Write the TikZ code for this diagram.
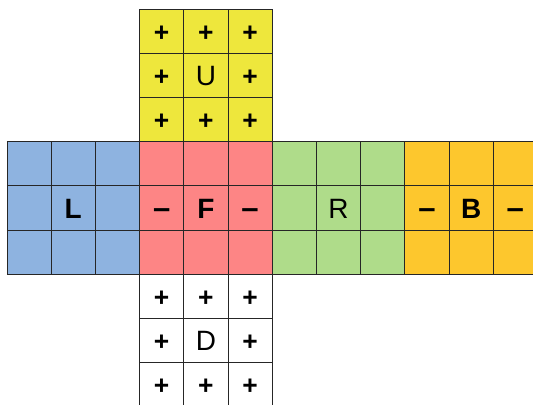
\documentclass[tikz,border=0pt]{standalone}
\usepackage{fontspec}
\setmainfont{Liberation Sans}
\definecolor{faceU}{HTML}{EEE73C}
\definecolor{faceL}{HTML}{8EB3E0}
\definecolor{faceF}{HTML}{FD8585}
\definecolor{faceR}{HTML}{AFDC8A}
\definecolor{faceB}{HTML}{FDC72D}

\begin{document}
\begin{tikzpicture}[x=1cm,y=1cm,
  cubeline/.style={line width=0.6pt,black!85},
  label/.style={inner sep=0pt,text height=13pt,text depth=0pt},
  facename/.style={label,font=\fontsize{18}{18}\selectfont},
  facebold/.style={label,font=\bfseries\fontsize{18}{18}\selectfont},
  sign/.style={label,font=\bfseries\fontsize{17}{17}\selectfont},
  dashsign/.style={label,font=\bfseries\fontsize{20}{20}\selectfont}]
  \useasboundingbox (-0.158,0.204) rectangle (11.90,-8.936);

  % faces
  \fill[faceU] (3,0) rectangle (6,-3);
  \fill[faceL] (0,-3) rectangle (3,-6);
  \fill[faceF] (3,-3) rectangle (6,-6);
  \fill[faceR] (6,-3) rectangle (9,-6);
  \fill[faceB] (9,-3) rectangle (12,-6);
  \fill[white] (3,-6) rectangle (6,-9);

  \draw[cubeline] (3,-3) grid (6,0);
  \draw[cubeline] (0,-6) grid (12,-3);
  \draw[cubeline] (3,-9) grid (6,-6);

  % face letters
  \node[facename] (U) at (4.5,-1.5) {U};
  \node[facebold] (L) at (1.5,-4.5) {L};
  \node[facebold] (F) at (4.5,-4.5) {F};
  \node[facename] (R) at (7.5,-4.5) {R};
  \node[facebold] (B) at (10.5,-4.5) {B};
  \node[facename] (D) at (4.5,-7.5) {D};

  % signs on U and D
  \foreach \i in {0,1,2}
    \foreach \j in {0,1,2} {
      \ifnum\i=1 \ifnum\j=1 \else
        \node[sign] (u\i\j) at (3.5+\i,-0.5-\j) {+};
        \node[sign] (d\i\j) at (3.5+\i,-6.5-\j) {+};
      \fi \else
        \node[sign] (u\i\j) at (3.5+\i,-0.5-\j) {+};
        \node[sign] (d\i\j) at (3.5+\i,-6.5-\j) {+};
      \fi
    }

  % signs on F and B
  \node[dashsign] (fl) at (3.5,-4.5) {\textendash};
  \node[dashsign] (fr) at (5.5,-4.5) {\textendash};
  \node[dashsign] (bl) at (9.5,-4.5) {\textendash};
  \node[dashsign] (br) at (11.5,-4.5) {\textendash};
\end{tikzpicture}
\end{document}
